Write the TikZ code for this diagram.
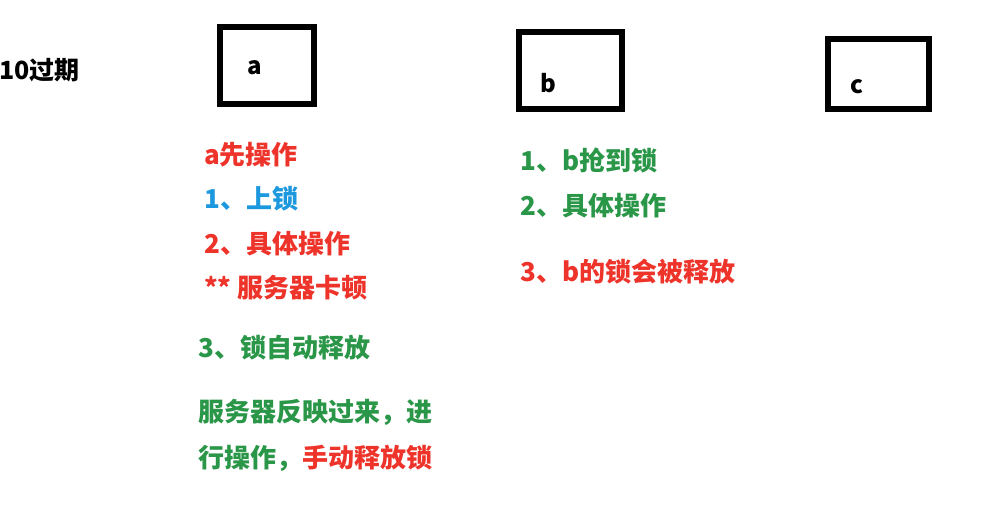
\documentclass[tikz,border=0pt]{standalone}
\usepackage{fontspec}
\setmainfont{Noto Sans CJK SC}
\definecolor{tred}{RGB}{238,52,42}
\definecolor{tgreen}{RGB}{42,150,72}
\definecolor{tblue}{RGB}{28,152,222}
\tikzset{
  box/.style={draw=black, line width=5.5pt, inner sep=0pt},
  txt/.style={anchor=west, inner sep=0pt, font=\fontsize{26pt}{30pt}\selectfont\bfseries},
  lbl/.style={inner sep=0pt, font=\fontsize{24pt}{28pt}\selectfont\bfseries}
}
\begin{document}
\begin{tikzpicture}[x=1pt,y=-1pt]
\useasboundingbox[fill=white] (0,0) rectangle (1005,529);
% title
\node[txt, text=black, font=\fontsize{25pt}{29pt}\selectfont\bfseries] (title) at (-1,70) {10过期};
% boxes
\node[box, minimum width=94pt, minimum height=77pt] (boxa) at (267,65.5) {};
\node[box, minimum width=103pt, minimum height=77pt] (boxb) at (570.5,70.5) {};
\node[box, minimum width=101pt, minimum height=70pt] (boxc) at (878.5,74) {};
\node[lbl] (la) at (255,68) {a};
\node[lbl] (lb) at (548,83) {b};
\node[lbl] (lc) at (857,87) {c};
% left column
\node[txt, text=tred] (a0) at (204,155) {a先操作};
\node[txt, text=tblue] (a1) at (204,199) {1、上锁};
\node[txt, text=tred] (a2) at (204,244) {2、具体操作};
\node[txt, text=tred] (a3) at (204,288) {** 服务器卡顿};
\node[txt, text=tgreen] (a4) at (198,348) {3、锁自动释放};
\node[txt, text=tgreen] (a5) at (198,412) {服务器反映过来，进};
\node[txt, text=tgreen] (a6) at (198,458) {行操作，\textcolor{tred}{手动释放锁}};
% right column
\node[txt, text=tgreen] (b1) at (520,160) {1、b抢到锁};
\node[txt, text=tgreen] (b2) at (520,206) {2、具体操作};
\node[txt, text=tred] (b3) at (520,272) {3、b的锁会被释放};
\end{tikzpicture}
\end{document}
